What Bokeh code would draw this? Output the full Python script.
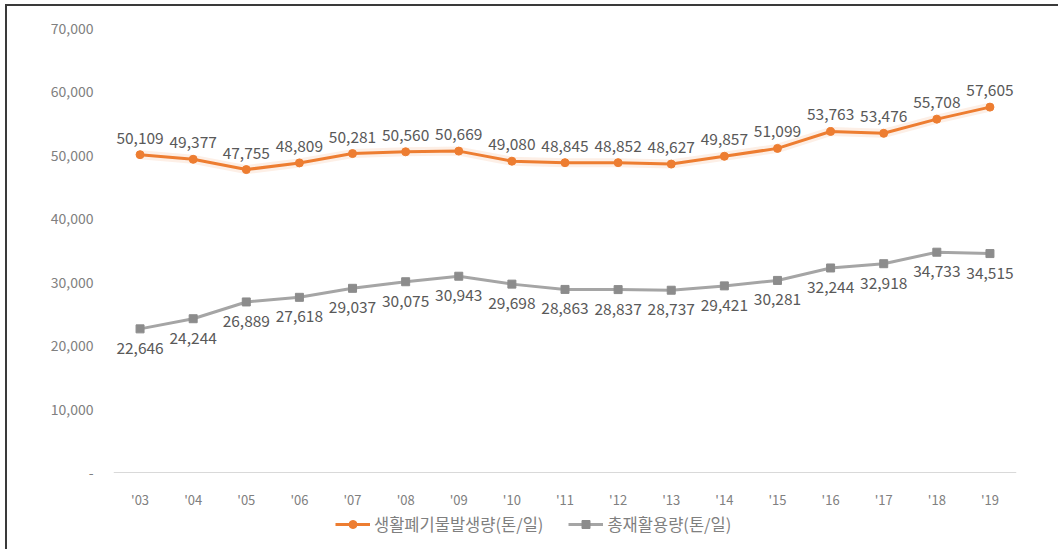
from bokeh.plotting import figure
from bokeh.models import ColumnDataSource, FixedTicker, NumeralTickFormatter, Legend, LegendItem
from bokeh.core.properties import value
from bokeh.embed import file_html
from bokeh.resources import INLINE

years = ["'03", "'04", "'05", "'06", "'07", "'08", "'09", "'10", "'11", "'12",
         "'13", "'14", "'15", "'16", "'17", "'18", "'19"]
waste = [50109, 49377, 47755, 48809, 50281, 50560, 50669, 49080, 48845, 48852,
         48627, 49857, 51099, 53763, 53476, 55708, 57605]
recycle = [22646, 24244, 26889, 27618, 29037, 30075, 30943, 29698, 28863, 28837,
           28737, 29421, 30281, 32244, 32918, 34733, 34515]
name_waste = "생활폐기물발생량(톤/일)"
name_recycle = "총재활용량(톤/일)"
y_ticks = [0, 10000, 20000, 30000, 40000, 50000, 60000, 70000]

FONT = "Noto Sans CJK KR"
ORANGE = "#ED7D31"
GRAY = "#A5A5A5"

src = ColumnDataSource(dict(
    x=years, a=waste, b=recycle,
    la=[f"{v:,}" for v in waste], lb=[f"{v:,}" for v in recycle],
))

# frame spans down to the bottom of the canvas so the legend can sit under the axis
p = figure(width=1053, height=545, x_range=years, y_range=(-12455, 70000),
           output_backend="svg", toolbar_location=None,
           min_border_left=106, min_border_right=44, min_border_top=22, min_border_bottom=0)
p.styles = {"border-left": "2px solid #3a3a3a", "border-top": "2px solid #3a3a3a",
            "margin-left": "5px", "margin-top": "4px"}
p.outline_line_color = None
p.xgrid.visible = False
p.ygrid.visible = False
p.x_range.range_padding = 0

# glow
p.line("x", "a", source=src, color=ORANGE, line_width=9, alpha=0.12)
la = p.line("x", "a", source=src, color=ORANGE, line_width=3)
sa = p.scatter("x", "a", source=src, marker="circle", size=8, color=ORANGE)
lb = p.line("x", "b", source=src, color=GRAY, line_width=3)
sb = p.scatter("x", "b", source=src, marker="square", size=8, color="#8C8C8C")

p.text("x", "a", text="la", source=src, text_align="center", text_baseline="bottom",
       y_offset=-11, text_font=value(FONT), text_font_size="15.5px", text_color="#595959")
p.text("x", "b", text="lb", source=src, text_align="center", text_baseline="top",
       y_offset=13, text_font=value(FONT), text_font_size="15.5px", text_color="#595959")

xa = p.xaxis[0]
xa.fixed_location = 0
xa.axis_line_color = "#D9D9D9"
xa.major_tick_line_color = None
xa.minor_tick_line_color = None
xa.major_label_standoff = 12
xa.major_label_text_font = FONT
xa.major_label_text_font_size = "13px"
xa.major_label_text_color = "#808080"

ya = p.yaxis[0]
ya.axis_line_color = None
ya.major_tick_line_color = None
ya.minor_tick_line_color = None
ya.ticker = FixedTicker(ticks=y_ticks)
ya.formatter = NumeralTickFormatter(format="0,0")
ya.major_label_overrides = {0: "-"}
ya.major_label_standoff = 14
ya.major_label_text_font = FONT
ya.major_label_text_font_size = "14px"
ya.major_label_text_color = "#808080"

legend = Legend(items=[LegendItem(label=name_waste, renderers=[la, sa]),
                       LegendItem(label=name_recycle, renderers=[lb, sb])],
                orientation="horizontal", location=(222, 15),
                glyph_width=35, label_standoff=4, spacing=25,
                label_text_font=FONT, label_text_font_size="16.5px", label_text_color="#7F7F7F",
                border_line_color=None, background_fill_alpha=0, margin=0, padding=2)
p.add_layout(legend)

open("out.html", "w").write(file_html(p, INLINE))
